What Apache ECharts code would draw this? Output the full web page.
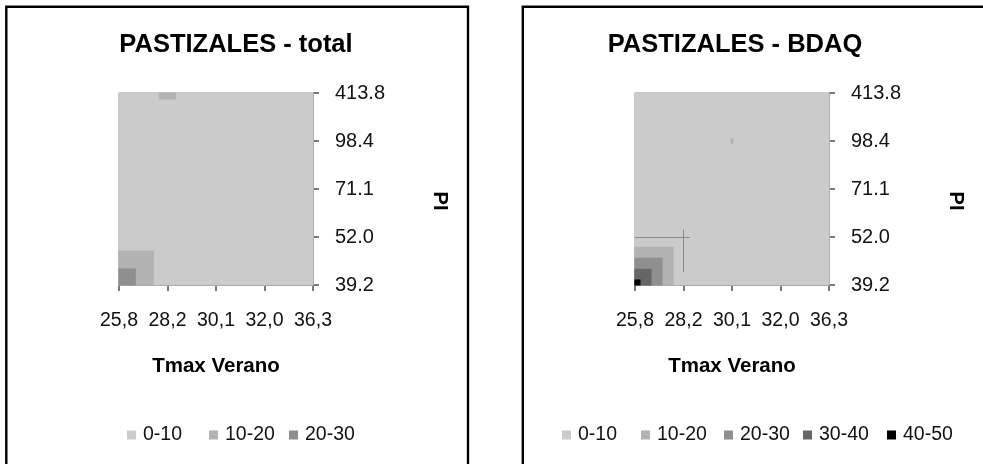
<!DOCTYPE html>
<html>
<head>
<meta charset="utf-8">
<script src="https://cdn.jsdelivr.net/npm/echarts@6/dist/echarts.min.js"></script>
<style>
  body { margin: 0; background: #fff; }
  #chart { width: 983px; height: 464px; }
</style>
</head>
<body>
<div id="chart"></div>
<script>
// tick labels
var tmaxLabels = ['25,8', '28,2', '30,1', '32,0', '36,3'];
var piLabels = ['39.2', '52.0', '71.1', '98.4', '413.8'];

// bands of the contour (lower limit of each class)
var bandNames = ['0-10', '10-20', '20-30', '30-40', '40-50'];
var bandLows = [0, 10, 20, 30, 40];
var bandColors = ['#cbcbcb', '#b2b2b2', '#8f8f8f', '#666666', '#000000'];

// value grids, rows = PI (39.2 -> 413.8), cols = Tmax Verano (25,8 -> 36,3)
var totalRow0 = [29, 2, 3, 4, 5];
var totalRow1 = [2, 4, 5, 6, 5];
var totalRow2 = [4, 5, 6, 5, 4];
var totalRow3 = [5, 3, 6, 5, 6];
var totalRow4 = [5, 11, 5, 6, 7];

var bdaqRow0 = [44.4, 0.5, 2, 3, 4];
var bdaqRow1 = [0.5, 3, 4, 5, 6];
var bdaqRow2 = [3, 4, 8, 6, 5];
var bdaqRow3 = [4, 3, 10.1, 3, 5];
var bdaqRow4 = [5, 6, 8, 5, 4];

// thin seam lines excel left on the BDAQ plot
var bdaqSeams = [
  [[0, 1], [1.13, 1]],
  [[1, 1.15], [1, 0.27]]
];

var totalGrid = [totalRow0, totalRow1, totalRow2, totalRow3, totalRow4];
var bdaqGrid = [bdaqRow0, bdaqRow1, bdaqRow2, bdaqRow3, bdaqRow4];

var FONT = '"Liberation Sans", Arial, sans-serif';

// region of one cell where value >= L, excel style (square corners)
function cellRegion(g, i, j, L) {
  var P = [[i, j], [i + 1, j], [i + 1, j + 1], [i, j + 1]];
  var V = [g[j][i], g[j][i + 1], g[j + 1][i + 1], g[j + 1][i]];
  var up = V.map(function (v) { return v >= L; });
  var n = up.filter(Boolean).length;
  if (n === 0) return [];
  if (n === 4) return [P];
  var items = [];
  for (var k = 0; k < 4; k++) {
    var k2 = (k + 1) % 4;
    if (up[k]) items.push({ pt: P[k], edge: -1 });
    if (up[k] !== up[k2]) {
      var t = (L - V[k]) / (V[k2] - V[k]);
      items.push({
        pt: [P[k][0] + t * (P[k2][0] - P[k][0]), P[k][1] + t * (P[k2][1] - P[k][1])],
        edge: k
      });
    }
  }
  var poly = [];
  for (var m = 0; m < items.length; m++) {
    var a = items[m], b = items[(m + 1) % items.length];
    poly.push(a.pt);
    if (a.edge >= 0 && b.edge >= 0 && (a.edge % 2) !== (b.edge % 2)) {
      var h = a.edge % 2 === 0 ? a.pt : b.pt;
      var v = a.edge % 2 === 0 ? b.pt : a.pt;
      poly.push([h[0], v[1]]);
    }
  }
  return [poly];
}

var cells = [];
for (var cj = 0; cj < 4; cj++) {
  for (var ci = 0; ci < 4; ci++) cells.push([ci, cj]);
}

function bandSeries(grid, gridIdx, b) {
  return {
    type: 'custom',
    name: bandNames[b],
    xAxisIndex: gridIdx,
    yAxisIndex: gridIdx,
    silent: true,
    itemStyle: { color: bandColors[b] },
    encode: { x: 0, y: 1 },
    data: cells,
    renderItem: function (params, api) {
      var polys = cellRegion(grid, api.value(0), api.value(1), bandLows[b]);
      return {
        type: 'group',
        children: polys.map(function (p) {
          return {
            type: 'polygon',
            shape: { points: p.map(function (pt) { return api.coord(pt); }) },
            style: { fill: bandColors[b], stroke: bandColors[b], lineWidth: 1.2 }
          };
        })
      };
    }
  };
}

function xAxisFor(idx) {
  return {
    type: 'value', gridIndex: idx, min: 0, max: 4, interval: 1, position: 'bottom',
    name: 'Tmax Verano', nameLocation: 'middle', nameGap: 71,
    nameTextStyle: { fontFamily: FONT, fontWeight: 'bold', fontSize: 20.5, color: '#000' },
    axisLine: { show: true, onZero: false, lineStyle: { color: '#868686', width: 1 } },
    axisTick: { show: true, length: 6, lineStyle: { color: '#7a7a7a', width: 2 } },
    axisLabel: {
      margin: 26, fontFamily: FONT, fontSize: 19.5, color: '#111',
      showMinLabel: true, showMaxLabel: true,
      formatter: function (v) { return tmaxLabels[v]; }
    },
    splitLine: { show: false }
  };
}

function yAxisFor(idx) {
  return {
    type: 'value', gridIndex: idx, min: 0, max: 4, interval: 1, position: 'right',
    name: 'PI', nameLocation: 'middle', nameGap: 117, nameRotate: -90,
    nameTextStyle: { fontFamily: FONT, fontWeight: 'bold', fontSize: 20, color: '#000', padding: [0, 0, 0, 24] },
    axisLine: { show: true, onZero: false, lineStyle: { color: '#868686', width: 1 } },
    axisTick: { show: true, length: 6, lineStyle: { color: '#7a7a7a', width: 2 } },
    axisLabel: {
      margin: 22, fontFamily: FONT, fontSize: 20, color: '#111',
      showMinLabel: true, showMaxLabel: true,
      formatter: function (v) { return piLabels[v]; }
    },
    splitLine: { show: false }
  };
}

// one legend per entry, so each sits at its own slot like in excel
var legendSlotsTotal = [127, 209, 289];
var legendSlotsBdaq = [562, 641, 724, 803, 887];

function legendItem(left, name) {
  return {
    left: left, top: 425, padding: 0,
    itemWidth: 9, itemHeight: 9, icon: 'rect',
    data: [name],
    textStyle: { fontFamily: FONT, fontSize: 19.5, color: '#111', padding: [0, 0, 0, 2] }
  };
}

var legends = [];
legendSlotsTotal.forEach(function (x, k) { legends.push(legendItem(x, bandNames[k])); });
legendSlotsBdaq.forEach(function (x, k) { legends.push(legendItem(x, bandNames[k])); });

var series = [];
for (var b1 = 0; b1 < 3; b1++) series.push(bandSeries(totalGrid, 0, b1));
for (var b2 = 0; b2 < 5; b2++) series.push(bandSeries(bdaqGrid, 1, b2));
series.push({
  type: 'lines',
  coordinateSystem: 'cartesian2d',
  xAxisIndex: 1,
  yAxisIndex: 1,
  silent: true,
  lineStyle: { color: '#8a8a8a', width: 1, opacity: 1 },
  data: bdaqSeams.map(function (s) { return { coords: s }; })
});

var myChart = echarts.init(document.getElementById('chart'));
myChart.setOption({
  animation: false,
  backgroundColor: '#fff',
  title: [
    { text: 'PASTIZALES - total', left: 236, top: 32, textAlign: 'center', padding: 0,
      textStyle: { fontFamily: FONT, fontWeight: 'bold', fontSize: 25.5, color: '#000' } },
    { text: 'PASTIZALES - BDAQ', left: 735, top: 32, textAlign: 'center', padding: 0,
      textStyle: { fontFamily: FONT, fontWeight: 'bold', fontSize: 25.5, color: '#000' } }
  ],
  legend: legends,
  grid: [
    { left: 119, top: 93, width: 194, height: 192, show: true, borderColor: '#868686', borderWidth: 1, backgroundColor: 'transparent' },
    { left: 635, top: 93, width: 194, height: 192, show: true, borderColor: '#868686', borderWidth: 1, backgroundColor: 'transparent' }
  ],
  xAxis: [xAxisFor(0), xAxisFor(1)],
  yAxis: [yAxisFor(0), yAxisFor(1)],
  graphic: [
    { type: 'rect', silent: true, z: 100, shape: { x: 6.3, y: 6.7, width: 461.7, height: 500 },
      style: { fill: null, stroke: '#000', lineWidth: 2.4 } },
    { type: 'rect', silent: true, z: 100, shape: { x: 522.8, y: 6.7, width: 480, height: 500 },
      style: { fill: null, stroke: '#000', lineWidth: 2.4 } }
  ],
  series: series
});
</script>
</body>
</html>
